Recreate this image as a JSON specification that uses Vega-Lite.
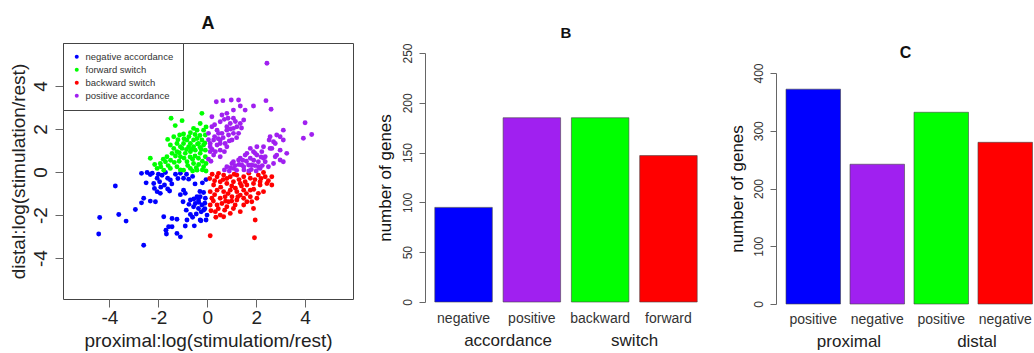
{
  "$schema": "https://vega.github.io/schema/vega-lite/v6.json",
  "padding": {"left": 8, "top": 14, "right": 0, "bottom": 0},
  "spacing": 21,
  "resolve": {"scale": {"color": "independent"}, "legend": {"color": "independent"}},
  "config": {
    "font": "Liberation Sans",
    "view": {"stroke": null},
    "axis": {"grid": false, "labelFlush": false, "labelOverlap": false, "titleFontWeight": "normal"}
  },
  "hconcat": [
    {
      "width": 290,
      "height": 256,
      "view": {"stroke": "#444", "strokeWidth": 1},
      "title": {"text": "A", "fontSize": 18, "fontWeight": "bold", "baseline": "alphabetic", "offset": -4, "anchor": "middle", "color": "#111"},
      "data": {"values": [
        {"x":-2.69,"y":-0.06,"g":"N"},{"x":-2.46,"y":-0.02,"g":"N"},{"x":-2.33,"y":-0.11,"g":"N"},{"x":-2.05,"y":-0.29,"g":"N"},{"x":-1.71,"y":-0.02,"g":"N"},{"x":-1.62,"y":-0.29,"g":"N"},{"x":-1.51,"y":-0.37,"g":"N"},{"x":-1.10,"y":-0.06,"g":"N"},{"x":-0.97,"y":-0.29,"g":"N"},{"x":-0.76,"y":-0.33,"g":"N"},
        {"x":-3.76,"y":-0.65,"g":"N"},{"x":-2.19,"y":-0.53,"g":"N"},{"x":-2.16,"y":-0.76,"g":"N"},{"x":-2.05,"y":-0.91,"g":"N"},{"x":-1.92,"y":-0.99,"g":"N"},{"x":-1.62,"y":-0.79,"g":"N"},{"x":-1.54,"y":-0.88,"g":"N"},{"x":-0.97,"y":-0.84,"g":"N"},{"x":-0.90,"y":-0.99,"g":"N"},{"x":-2.60,"y":-1.22,"g":"N"},
        {"x":-2.69,"y":-1.43,"g":"N"},{"x":-2.33,"y":-1.35,"g":"N"},{"x":-2.12,"y":-1.38,"g":"N"},{"x":-2.94,"y":-1.74,"g":"N"},{"x":-3.62,"y":-1.97,"g":"N"},{"x":-4.40,"y":-2.11,"g":"N"},{"x":-3.32,"y":-2.28,"g":"N"},{"x":-4.44,"y":-2.88,"g":"N"},{"x":-2.60,"y":-3.40,"g":"N"},{"x":-1.44,"y":-2.16,"g":"N"},
        {"x":-1.24,"y":-2.19,"g":"N"},{"x":-1.58,"y":-2.54,"g":"N"},{"x":-1.44,"y":-2.54,"g":"N"},{"x":-1.67,"y":-2.88,"g":"N"},{"x":-1.10,"y":-3.01,"g":"N"},{"x":-0.90,"y":-2.51,"g":"N"},{"x":-0.53,"y":-2.50,"g":"N"},{"x":-0.83,"y":-2.23,"g":"N"},{"x":-0.69,"y":-1.97,"g":"N"},{"x":-0.86,"y":-1.77,"g":"N"},
        {"x":-0.56,"y":-1.61,"g":"N"},{"x":-0.49,"y":-1.46,"g":"N"},{"x":-0.36,"y":-1.69,"g":"N"},{"x":-0.22,"y":-1.53,"g":"N"},{"x":-0.15,"y":-1.77,"g":"N"},{"x":-0.29,"y":-1.15,"g":"N"},{"x":-0.36,"y":-1.30,"g":"N"},{"x":-0.08,"y":-1.22,"g":"N"},{"x":-0.01,"y":-2.00,"g":"N"},{"x":-0.29,"y":-2.23,"g":"N"},
        {"x":-0.05,"y":-2.23,"g":"N"},{"x":-0.69,"y":-1.30,"g":"N"},{"x":-0.99,"y":-1.38,"g":"N"},{"x":-0.42,"y":-1.15,"g":"N"},{"x":-1.78,"y":-2.08,"g":"N"},{"x":-1.69,"y":-2.70,"g":"N"},{"x":-1.24,"y":-2.85,"g":"N"},{"x":-0.26,"y":-2.26,"g":"N"},
        {"x":-2.25,"y":-0.05,"g":"N"},{"x":-2.00,"y":-0.10,"g":"N"},{"x":-1.85,"y":-0.15,"g":"N"},{"x":-1.95,"y":-0.45,"g":"N"},{"x":-1.75,"y":-0.60,"g":"N"},{"x":-1.30,"y":-0.10,"g":"N"},{"x":-1.20,"y":-0.30,"g":"N"},{"x":-0.85,"y":-0.10,"g":"N"},{"x":-0.60,"y":-0.20,"g":"N"},{"x":-0.50,"y":-0.55,"g":"N"},
        {"x":-0.30,"y":-0.90,"g":"N"},{"x":-0.15,"y":-0.95,"g":"N"},{"x":-0.10,"y":-1.45,"g":"N"},{"x":-0.25,"y":-1.85,"g":"N"},{"x":-0.45,"y":-1.95,"g":"N"},{"x":-0.60,"y":-2.10,"g":"N"},{"x":-0.10,"y":-1.70,"g":"N"},{"x":-0.35,"y":-1.40,"g":"N"},{"x":-0.55,"y":-1.25,"g":"N"},{"x":-1.10,"y":-1.05,"g":"N"},
        {"x":-1.90,"y":-0.70,"g":"N"},{"x":-2.50,"y":-0.50,"g":"N"},{"x":-1.45,"y":-0.55,"g":"N"},{"x":-0.20,"y":-0.50,"g":"N"},{"x":-0.05,"y":-0.35,"g":"N"},{"x":-0.75,"y":-1.50,"g":"N"},
        {"x":-1.48,"y":2.50,"g":"F"},{"x":-1.03,"y":2.39,"g":"F"},{"x":-1.31,"y":2.16,"g":"F"},{"x":-1.62,"y":1.52,"g":"F"},{"x":-1.37,"y":1.64,"g":"F"},{"x":-1.13,"y":1.72,"g":"F"},{"x":-0.97,"y":1.77,"g":"F"},{"x":-0.69,"y":1.83,"g":"F"},{"x":-0.56,"y":2.03,"g":"F"},{"x":-0.29,"y":2.26,"g":"F"},
        {"x":-0.22,"y":2.73,"g":"F"},{"x":-0.42,"y":1.95,"g":"F"},{"x":-2.33,"y":0.64,"g":"F"},{"x":-1.92,"y":0.40,"g":"F"},{"x":-1.71,"y":0.48,"g":"F"},{"x":-1.65,"y":0.71,"g":"F"},{"x":-1.44,"y":0.87,"g":"F"},{"x":-1.37,"y":1.10,"g":"F"},{"x":-1.51,"y":1.26,"g":"F"},{"x":-1.24,"y":1.33,"g":"F"},
        {"x":-1.10,"y":1.18,"g":"F"},{"x":-0.97,"y":1.33,"g":"F"},{"x":-0.83,"y":1.49,"g":"F"},{"x":-0.69,"y":1.33,"g":"F"},{"x":-0.56,"y":1.49,"g":"F"},{"x":-0.42,"y":1.56,"g":"F"},{"x":-0.36,"y":1.33,"g":"F"},{"x":-0.22,"y":1.49,"g":"F"},{"x":-0.15,"y":1.26,"g":"F"},{"x":-0.08,"y":1.72,"g":"F"},
        {"x":-2.05,"y":0.17,"g":"F"},{"x":-1.78,"y":0.09,"g":"F"},{"x":-1.51,"y":0.17,"g":"F"},{"x":-1.24,"y":0.25,"g":"F"},{"x":-0.97,"y":0.09,"g":"F"},{"x":-0.69,"y":0.17,"g":"F"},{"x":-0.42,"y":0.09,"g":"F"},{"x":-0.15,"y":0.25,"g":"F"},{"x":-0.83,"y":0.48,"g":"F"},{"x":-0.56,"y":0.40,"g":"F"},
        {"x":-0.36,"y":0.64,"g":"F"},{"x":-1.10,"y":0.71,"g":"F"},{"x":-0.90,"y":0.87,"g":"F"},{"x":-0.69,"y":0.95,"g":"F"},{"x":-0.49,"y":1.02,"g":"F"},{"x":-0.29,"y":0.87,"g":"F"},{"x":-0.08,"y":0.71,"g":"F"},{"x":-1.24,"y":0.95,"g":"F"},{"x":-1.03,"y":1.10,"g":"F"},{"x":-0.76,"y":1.18,"g":"F"},
        {"x":-0.56,"y":1.18,"g":"F"},{"x":-0.29,"y":1.15,"g":"F"},{"x":-0.08,"y":1.02,"g":"F"},
        {"x":-1.90,"y":0.25,"g":"F"},{"x":-1.60,"y":0.30,"g":"F"},{"x":-1.35,"y":0.45,"g":"F"},{"x":-1.15,"y":0.50,"g":"F"},{"x":-0.95,"y":0.65,"g":"F"},{"x":-0.70,"y":0.70,"g":"F"},{"x":-0.50,"y":0.75,"g":"F"},{"x":-0.20,"y":0.50,"g":"F"},{"x":-0.05,"y":0.40,"g":"F"},{"x":-1.30,"y":0.75,"g":"F"},
        {"x":-0.80,"y":0.30,"g":"F"},{"x":-0.60,"y":0.60,"g":"F"},{"x":-0.35,"y":0.35,"g":"F"},{"x":-0.10,"y":1.35,"g":"F"},{"x":-0.30,"y":1.70,"g":"F"},{"x":-0.50,"y":1.75,"g":"F"},{"x":-0.15,"y":1.95,"g":"F"},{"x":-0.05,"y":2.10,"g":"F"},{"x":-0.25,"y":1.05,"g":"F"},{"x":-0.85,"y":1.05,"g":"F"},
        {"x":-1.15,"y":0.90,"g":"F"},{"x":-1.50,"y":0.55,"g":"F"},{"x":-1.80,"y":0.60,"g":"F"},{"x":-2.15,"y":0.35,"g":"F"},{"x":-0.05,"y":0.05,"g":"F"},{"x":-0.60,"y":0.05,"g":"F"},{"x":-1.10,"y":0.10,"g":"F"},{"x":-0.95,"y":1.55,"g":"F"},{"x":-0.75,"y":1.65,"g":"F"},{"x":-1.20,"y":1.50,"g":"F"},
        {"x":-0.40,"y":1.30,"g":"F"},{"x":-0.65,"y":1.05,"g":"F"},{"x":-0.45,"y":0.20,"g":"F"},{"x":-0.20,"y":0.10,"g":"F"},
        {"x":0.12,"y":-2.96,"g":"B"},{"x":1.93,"y":-3.05,"g":"B"},{"x":0.26,"y":-0.60,"g":"B"},{"x":0.12,"y":-0.91,"g":"B"},{"x":0.19,"y":-1.22,"g":"B"},{"x":0.12,"y":-1.53,"g":"B"},{"x":0.33,"y":-1.84,"g":"B"},{"x":0.53,"y":-2.00,"g":"B"},{"x":0.67,"y":-2.08,"g":"B"},{"x":0.80,"y":-1.61,"g":"B"},
        {"x":1.07,"y":-1.69,"g":"B"},{"x":0.87,"y":-1.38,"g":"B"},{"x":1.21,"y":-1.30,"g":"B"},{"x":1.49,"y":-1.22,"g":"B"},{"x":1.76,"y":-1.15,"g":"B"},{"x":1.82,"y":-1.38,"g":"B"},{"x":1.89,"y":-1.69,"g":"B"},{"x":2.09,"y":-0.99,"g":"B"},{"x":2.16,"y":-0.60,"g":"B"},{"x":2.44,"y":-0.53,"g":"B"},
        {"x":2.37,"y":-0.22,"g":"B"},{"x":2.64,"y":-0.22,"g":"B"},{"x":2.64,"y":-0.60,"g":"B"},{"x":2.09,"y":-0.14,"g":"B"},{"x":1.76,"y":-0.29,"g":"B"},{"x":1.49,"y":-0.22,"g":"B"},{"x":1.21,"y":-0.14,"g":"B"},{"x":0.94,"y":-0.22,"g":"B"},{"x":0.67,"y":-0.14,"g":"B"},{"x":0.40,"y":-0.22,"g":"B"},
        {"x":0.53,"y":-0.45,"g":"B"},{"x":0.80,"y":-0.53,"g":"B"},{"x":1.07,"y":-0.45,"g":"B"},{"x":1.35,"y":-0.53,"g":"B"},{"x":1.62,"y":-0.60,"g":"B"},{"x":1.89,"y":-0.53,"g":"B"},{"x":0.40,"y":-0.84,"g":"B"},{"x":0.67,"y":-0.91,"g":"B"},{"x":0.94,"y":-0.84,"g":"B"},{"x":1.21,"y":-0.91,"g":"B"},
        {"x":1.49,"y":-0.84,"g":"B"},{"x":1.76,"y":-0.84,"g":"B"},{"x":0.53,"y":-1.22,"g":"B"},{"x":0.73,"y":-1.15,"g":"B"},{"x":1.01,"y":-1.15,"g":"B"},{"x":1.35,"y":-1.07,"g":"B"},{"x":0.40,"y":-1.53,"g":"B"},{"x":0.60,"y":-1.46,"g":"B"},{"x":1.14,"y":-1.53,"g":"B"},{"x":1.49,"y":-1.53,"g":"B"},
        {"x":1.62,"y":-1.38,"g":"B"},{"x":1.35,"y":-1.84,"g":"B"},{"x":0.94,"y":-1.92,"g":"B"},{"x":1.96,"y":-2.23,"g":"B"},{"x":2.30,"y":-0.91,"g":"B"},{"x":2.03,"y":-1.22,"g":"B"},{"x":0.46,"y":-0.06,"g":"B"},{"x":2.30,"y":-0.02,"g":"B"},{"x":2.16,"y":-0.45,"g":"B"},{"x":0.71,"y":-1.77,"g":"B"},
        {"x":0.10,"y":-0.30,"g":"B"},{"x":0.20,"y":-0.10,"g":"B"},{"x":0.30,"y":-0.40,"g":"B"},{"x":0.55,"y":-0.70,"g":"B"},{"x":0.80,"y":-0.30,"g":"B"},{"x":1.00,"y":-0.65,"g":"B"},{"x":1.10,"y":-0.10,"g":"B"},{"x":1.30,"y":-0.35,"g":"B"},{"x":1.55,"y":-0.45,"g":"B"},{"x":1.70,"y":-0.05,"g":"B"},
        {"x":1.95,"y":-0.35,"g":"B"},{"x":1.15,"y":-0.75,"g":"B"},{"x":1.40,"y":-0.65,"g":"B"},{"x":0.85,"y":-1.00,"g":"B"},{"x":0.30,"y":-1.05,"g":"B"},{"x":0.25,"y":-1.35,"g":"B"},{"x":0.45,"y":-1.70,"g":"B"},{"x":0.75,"y":-1.35,"g":"B"},{"x":1.00,"y":-1.35,"g":"B"},{"x":1.25,"y":-1.15,"g":"B"},
        {"x":0.65,"y":-0.35,"g":"B"},{"x":1.60,"y":-1.00,"g":"B"},{"x":1.90,"y":-0.80,"g":"B"},{"x":2.20,"y":-0.30,"g":"B"},{"x":0.15,"y":-1.80,"g":"B"},{"x":0.35,"y":-2.10,"g":"B"},{"x":2.50,"y":-0.40,"g":"B"},
        {"x":2.44,"y":5.06,"g":"P"},
        {"x":1.28,"y":3.35,"g":"P"},{"x":0.98,"y":3.35,"g":"P"},{"x":0.64,"y":3.32,"g":"P"},{"x":0.37,"y":3.27,"g":"P"},{"x":1.35,"y":3.07,"g":"P"},{"x":1.89,"y":3.07,"g":"P"},{"x":2.40,"y":3.32,"g":"P"},{"x":2.61,"y":2.92,"g":"P"},{"x":1.55,"y":2.88,"g":"P"},{"x":1.07,"y":2.88,"g":"P"},
        {"x":0.80,"y":2.73,"g":"P"},{"x":1.49,"y":2.42,"g":"P"},{"x":0.19,"y":2.57,"g":"P"},{"x":0.53,"y":2.34,"g":"P"},{"x":0.94,"y":2.26,"g":"P"},{"x":1.21,"y":2.11,"g":"P"},{"x":1.07,"y":1.80,"g":"P"},{"x":0.80,"y":1.95,"g":"P"},{"x":0.46,"y":1.80,"g":"P"},{"x":0.26,"y":1.49,"g":"P"},
        {"x":0.53,"y":1.33,"g":"P"},{"x":0.12,"y":1.18,"g":"P"},{"x":0.33,"y":0.95,"g":"P"},{"x":0.80,"y":1.18,"g":"P"},{"x":1.01,"y":1.49,"g":"P"},{"x":0.05,"y":1.80,"g":"P"},{"x":0.26,"y":0.79,"g":"P"},{"x":0.53,"y":0.71,"g":"P"},{"x":0.60,"y":2.65,"g":"P"},{"x":1.07,"y":2.50,"g":"P"},
        {"x":1.35,"y":2.26,"g":"P"},{"x":0.80,"y":2.11,"g":"P"},{"x":1.07,"y":2.03,"g":"P"},{"x":0.40,"y":1.95,"g":"P"},{"x":0.60,"y":1.80,"g":"P"},{"x":0.87,"y":1.72,"g":"P"},{"x":0.53,"y":1.49,"g":"P"},{"x":0.12,"y":1.33,"g":"P"},{"x":0.40,"y":1.26,"g":"P"},{"x":0.73,"y":1.33,"g":"P"},
        {"x":0.12,"y":0.95,"g":"P"},{"x":0.53,"y":1.02,"g":"P"},{"x":1.28,"y":1.80,"g":"P"},{"x":0.19,"y":2.11,"g":"P"},
        {"x":0.30,"y":2.20,"g":"P"},{"x":0.70,"y":2.45,"g":"P"},{"x":0.95,"y":2.00,"g":"P"},{"x":0.65,"y":1.60,"g":"P"},{"x":0.30,"y":1.65,"g":"P"},{"x":0.05,"y":1.50,"g":"P"},{"x":0.20,"y":1.05,"g":"P"},{"x":0.45,"y":1.55,"g":"P"},{"x":0.90,"y":1.45,"g":"P"},{"x":1.20,"y":1.60,"g":"P"},
        {"x":0.70,"y":0.95,"g":"P"},{"x":0.05,"y":0.60,"g":"P"},{"x":0.15,"y":0.50,"g":"P"},{"x":1.15,"y":2.35,"g":"P"},{"x":1.40,"y":2.05,"g":"P"},{"x":0.85,"y":2.50,"g":"P"},
        {"x":4.00,"y":2.29,"g":"P"},{"x":4.27,"y":1.75,"g":"P"},{"x":3.93,"y":1.57,"g":"P"},{"x":3.11,"y":1.95,"g":"P"},{"x":2.98,"y":1.64,"g":"P"},{"x":2.57,"y":1.64,"g":"P"},{"x":2.71,"y":1.41,"g":"P"},{"x":2.30,"y":1.18,"g":"P"},{"x":2.57,"y":1.10,"g":"P"},{"x":3.25,"y":0.87,"g":"P"},
        {"x":2.98,"y":0.56,"g":"P"},{"x":2.78,"y":0.71,"g":"P"},{"x":2.03,"y":1.18,"g":"P"},{"x":1.89,"y":0.95,"g":"P"},{"x":1.62,"y":0.87,"g":"P"},{"x":1.35,"y":0.64,"g":"P"},{"x":1.07,"y":0.48,"g":"P"},{"x":0.80,"y":0.25,"g":"P"},{"x":1.07,"y":0.17,"g":"P"},{"x":1.49,"y":0.25,"g":"P"},
        {"x":1.82,"y":0.33,"g":"P"},{"x":2.09,"y":0.25,"g":"P"},{"x":2.30,"y":0.64,"g":"P"},{"x":2.03,"y":0.79,"g":"P"},{"x":1.76,"y":0.64,"g":"P"},{"x":2.84,"y":1.72,"g":"P"},{"x":3.11,"y":1.49,"g":"P"},{"x":2.53,"y":1.49,"g":"P"},{"x":2.98,"y":1.02,"g":"P"},{"x":2.84,"y":0.79,"g":"P"},
        {"x":3.11,"y":0.48,"g":"P"},{"x":2.71,"y":0.40,"g":"P"},{"x":2.37,"y":0.48,"g":"P"},{"x":2.50,"y":0.25,"g":"P"},{"x":1.76,"y":1.10,"g":"P"},{"x":1.96,"y":0.87,"g":"P"},{"x":2.23,"y":0.95,"g":"P"},{"x":1.55,"y":0.79,"g":"P"},{"x":1.28,"y":0.56,"g":"P"},{"x":2.09,"y":0.48,"g":"P"},
        {"x":1.41,"y":0.33,"g":"P"},{"x":1.01,"y":0.40,"g":"P"},{"x":1.69,"y":0.33,"g":"P"},{"x":2.16,"y":0.17,"g":"P"},{"x":2.37,"y":0.71,"g":"P"},{"x":2.64,"y":1.10,"g":"P"},{"x":2.78,"y":1.33,"g":"P"},
        {"x":0.70,"y":0.10,"g":"P"},{"x":0.90,"y":0.05,"g":"P"},{"x":1.20,"y":0.08,"g":"P"},{"x":1.50,"y":0.10,"g":"P"},{"x":1.80,"y":0.12,"g":"P"},{"x":2.00,"y":0.05,"g":"P"},{"x":1.30,"y":0.35,"g":"P"},{"x":1.60,"y":0.50,"g":"P"},{"x":1.90,"y":0.55,"g":"P"},{"x":2.20,"y":0.70,"g":"P"},
        {"x":1.45,"y":0.55,"g":"P"},{"x":1.15,"y":0.30,"g":"P"},{"x":0.95,"y":0.20,"g":"P"},{"x":1.70,"y":0.05,"g":"P"},{"x":2.25,"y":0.30,"g":"P"},{"x":1.95,"y":0.30,"g":"P"}
      ]},
      "mark": {"type": "circle", "size": 24, "opacity": 1},
      "encoding": {
        "x": {
          "field": "x", "type": "quantitative",
          "scale": {"domain": [-5.9, 5.96], "nice": false, "zero": false},
          "axis": {"values": [-4, -2, 0, 2, 4], "domain": false, "tickColor": "#666", "tickSize": 8, "labelFontSize": 19, "labelColor": "#222", "labelPadding": 1, "labelExpr": "'' + datum.value", "title": "proximal:log(stimulatiom/rest)", "titleFontSize": 19, "titleColor": "#222", "titlePadding": 4}
        },
        "y": {
          "field": "y", "type": "quantitative",
          "scale": {"domain": [-5.9, 6.0], "nice": false, "zero": false},
          "axis": {"values": [-4, -2, 0, 2, 4], "domain": false, "tickColor": "#666", "tickSize": 8, "labelFontSize": 19, "labelColor": "#222", "labelAngle": -90, "labelPadding": 5, "labelExpr": "'' + datum.value", "title": "distal:log(stimulation/rest)", "titleFontSize": 19, "titleColor": "#222", "titlePadding": 3}
        },
        "color": {
          "field": "g", "type": "nominal",
          "scale": {"domain": ["N", "F", "B", "P"], "range": ["#0000FF", "#00FF00", "#FF0000", "#A020F0"]},
          "legend": {"title": null, "orient": "top-left", "offset": 0, "padding": 9, "strokeColor": "#444", "fillColor": "white", "labelFontSize": 9.5, "labelColor": "#333", "symbolSize": 16, "symbolType": "circle", "symbolStrokeWidth": 0, "rowPadding": 2, "labelOffset": 4,
            "labelExpr": "datum.label == 'N' ? 'negative accordance' : datum.label == 'F' ? 'forward switch' : datum.label == 'B' ? 'backward switch' : 'positive accordance'"}
        }
      }
    },
    {
      "width": 282,
      "height": 259,
      "title": {"text": "B", "fontSize": 15, "fontWeight": "bold", "baseline": "alphabetic", "offset": -10, "anchor": "middle", "color": "#111"},
      "data": {"values": [
        {"cat": "negative", "grp": "accordance", "n": 95},
        {"cat": "positive", "grp": "accordance", "n": 185},
        {"cat": "backward", "grp": "switch", "n": 185},
        {"cat": "forward", "grp": "switch", "n": 147}
      ]},
      "layer": [
        {
          "mark": {"type": "bar", "stroke": "#444", "strokeWidth": 0.6},
          "encoding": {
            "x": {"field": "cat", "type": "nominal", "scale": {"domain": ["negative", "positive", "backward", "forward"], "paddingInner": 0.158, "paddingOuter": 0.1435},
              "axis": {"title": null, "domain": false, "ticks": false, "labelAngle": 0, "labelFontSize": 14, "labelColor": "#333", "labelPadding": 9}},
            "y": {"field": "n", "type": "quantitative", "scale": {"domain": [0, 250], "range": [259, 10], "nice": false},
              "axis": {"values": [0, 50, 100, 150, 200, 250], "domain": true, "domainColor": "#666", "tickColor": "#666", "tickSize": 6, "labelAngle": -90, "labelFontSize": 12, "labelColor": "#333", "labelPadding": 5, "title": "number of genes", "titleFontSize": 17, "titleColor": "#111", "titlePadding": 7}},
            "color": {"field": "cat", "type": "nominal", "scale": {"domain": ["negative", "positive", "backward", "forward"], "range": ["#0000FF", "#A020F0", "#00FF00", "#FF0000"]}, "legend": null}
          }
        },
        {
          "transform": [{"filter": "datum.cat == 'positive'"}],
          "mark": {"type": "text", "fontSize": 17, "dx": 5, "dy": 39, "baseline": "middle", "align": "center", "color": "#222"},
          "encoding": {
            "x": {"field": "cat", "type": "nominal", "bandPosition": 0, "scale": {"domain": ["negative", "positive", "backward", "forward"]}},
            "y": {"datum": 0},
            "text": {"field": "grp"}
          }
        },
        {
          "transform": [{"filter": "datum.cat == 'forward'"}],
          "mark": {"type": "text", "fontSize": 17, "dx": -5, "dy": 39, "baseline": "middle", "align": "center", "color": "#222"},
          "encoding": {
            "x": {"field": "cat", "type": "nominal", "bandPosition": 0, "scale": {"domain": ["negative", "positive", "backward", "forward"]}},
            "y": {"datum": 0},
            "text": {"field": "grp"}
          }
        }
      ]
    },
    {
      "width": 259,
      "height": 261,
      "title": {"text": "C", "fontSize": 16, "fontWeight": "bold", "baseline": "alphabetic", "offset": 3.5, "dy": 34, "anchor": "middle", "color": "#111"},
      "data": {"values": [
        {"key": "proximal|positive", "side": "positive", "grp": "proximal", "n": 372},
        {"key": "proximal|negative", "side": "negative", "grp": "proximal", "n": 242},
        {"key": "distal|positive", "side": "positive", "grp": "distal", "n": 332},
        {"key": "distal|negative", "side": "negative", "grp": "distal", "n": 280}
      ]},
      "layer": [
        {
          "mark": {"type": "bar", "stroke": "#444", "strokeWidth": 0.6},
          "encoding": {
            "x": {"field": "key", "type": "nominal", "scale": {"domain": ["proximal|positive", "proximal|negative", "distal|positive", "distal|negative"], "paddingInner": 0.148, "paddingOuter": 0.0977, "align": 0.8},
              "axis": {"title": null, "domain": false, "ticks": false, "labelAngle": 0, "labelFontSize": 14, "labelColor": "#333", "labelPadding": 8, "labelExpr": "split(datum.label, '|')[1]"}},
            "y": {"field": "n", "type": "quantitative", "scale": {"domain": [0, 400], "range": [261, 30], "nice": false},
              "axis": {"values": [0, 100, 200, 300, 400], "domain": true, "domainColor": "#666", "tickColor": "#666", "tickSize": 6, "labelAngle": -90, "labelFontSize": 12, "labelColor": "#333", "labelPadding": 5, "title": "number of genes", "titleFontSize": 17, "titleColor": "#111", "titlePadding": 6}},
            "color": {"field": "key", "type": "nominal", "scale": {"domain": ["proximal|positive", "proximal|negative", "distal|positive", "distal|negative"], "range": ["#0000FF", "#A020F0", "#00FF00", "#FF0000"]}, "legend": null}
          }
        },
        {
          "transform": [{"filter": "datum.side == 'negative'"}],
          "mark": {"type": "text", "fontSize": 17, "dx": -1, "dy": 38, "baseline": "middle", "align": "center", "color": "#222"},
          "encoding": {
            "x": {"field": "key", "type": "nominal", "bandPosition": 0, "scale": {"domain": ["proximal|positive", "proximal|negative", "distal|positive", "distal|negative"]}},
            "y": {"datum": 0},
            "text": {"field": "grp"}
          }
        }
      ]
    }
  ]
}
